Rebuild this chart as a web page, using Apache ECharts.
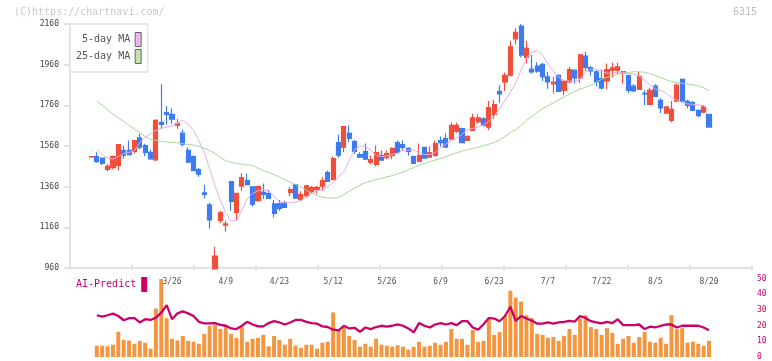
<!DOCTYPE html>
<html>
<head>
<meta charset="utf-8">
<script src="https://cdn.jsdelivr.net/npm/echarts@6/dist/echarts.min.js"></script>
<style>
  html, body { margin: 0; padding: 0; background: #fff; }
  #chart { width: 772px; height: 361px; }
</style>
</head>
<body>
<div id="chart"></div>
<script>
// ---- data ----
const dates = [
  '3/4','3/5','3/6','3/7','3/10','3/11','3/12','3/13','3/14','3/17','3/18','3/19','3/21','3/24','3/25','3/26','3/27','3/28','3/31',
  '4/1','4/2','4/3','4/4','4/7','4/8','4/9','4/10','4/11','4/14','4/15','4/16','4/17','4/18','4/21','4/22','4/23','4/24','4/25','4/28','4/30',
  '5/1','5/2','5/7','5/8','5/9','5/12','5/13','5/14','5/15','5/16','5/19','5/20','5/21','5/22','5/23','5/26','5/27','5/28','5/29','5/30',
  '6/2','6/3','6/4','6/5','6/6','6/9','6/10','6/11','6/12','6/13','6/16','6/17','6/18','6/19','6/20','6/23','6/24','6/25','6/26','6/27','6/30',
  '7/1','7/2','7/3','7/4','7/7','7/8','7/9','7/10','7/11','7/14','7/15','7/16','7/17','7/18','7/22','7/23','7/24','7/25','7/28','7/29','7/30','7/31',
  '8/1','8/4','8/5','8/6','8/7','8/8','8/12','8/13','8/14','8/15','8/18','8/19','8/20'
];
const tickLabels = ['3/26','4/9','4/23','5/12','5/26','6/9','6/23','7/7','7/22','8/5','8/20'];

const open = [1506,1508,1500,1445,1454,1465,1538,1538,1534,1600,1562,1529,1492,1676,1724,1716,1661,1623,1538,1508,
  1444,1330,1271,956,1194,1171,1385,1233,1362,1390,1359,1291,1332,1326,1275,1276,1281,1332,1370,1297,
  1316,1335,1347,1362,1429,1395,1577,1554,1622,1582,1518,1533,1480,1470,1513,1503,1513,1577,1567,1548,
  1508,1485,1553,1505,1513,1587,1597,1594,1633,1646,1587,1637,1678,1694,1653,1716,1829,1875,1908,2087,
  2150,1996,1938,1953,1962,1900,1865,1908,1834,1875,1933,1895,2002,1946,1925,1892,1880,1933,1933,1920,
  1908,1854,1838,1819,1765,1854,1785,1722,1686,1781,1888,1780,1773,1735,1727,1716];
const close = [1508,1483,1475,1460,1508,1567,1515,1518,1587,1554,1529,1497,1686,1666,1716,1692,1670,1569,1480,1439,
  1421,1322,1196,1019,1232,1177,1287,1327,1405,1370,1274,1360,1322,1302,1228,1253,1258,1345,1304,1321,
  1364,1355,1357,1390,1386,1498,1515,1656,1597,1533,1505,1495,1493,1528,1490,1523,1548,1528,1553,1533,
  1475,1513,1500,1528,1572,1577,1554,1661,1661,1577,1607,1699,1699,1661,1749,1764,1816,1908,2048,2119,
  2007,2040,1924,1928,1900,1875,1874,1829,1879,1936,1895,2008,1946,1929,1875,1845,1936,1944,1949,1926,
  1834,1831,1903,1816,1834,1804,1747,1752,1740,1859,1781,1760,1735,1709,1752,1653];
const high = [1508,1529,1502,1472,1513,1570,1563,1587,1590,1620,1571,1541,1691,1864,1755,1745,1694,1640,1554,1515,
  1452,1370,1281,1064,1242,1194,1387,1330,1426,1423,1362,1365,1376,1345,1294,1294,1291,1357,1370,1337,
  1370,1363,1363,1406,1439,1508,1617,1658,1661,1591,1529,1572,1513,1562,1538,1538,1554,1587,1587,1554,
  1513,1572,1553,1558,1587,1607,1622,1676,1676,1650,1612,1719,1716,1702,1781,1788,1859,1921,2078,2139,
  2160,2078,2007,1972,1969,1925,1900,1913,1879,1949,1933,2012,2023,1953,1933,1936,1966,1971,1970,1929,
  1908,1864,1924,1834,1847,1864,1796,1755,1781,1867,1892,1788,1781,1740,1760,1716];
const low = [1506,1478,1467,1436,1444,1439,1497,1515,1523,1543,1510,1492,1485,1645,1666,1670,1645,1559,1477,1436,
  1409,1302,1154,956,1181,1138,1242,1196,1340,1368,1263,1286,1299,1302,1208,1242,1258,1314,1301,1289,
  1307,1327,1327,1340,1386,1395,1502,1529,1579,1521,1500,1495,1470,1460,1490,1495,1495,1521,1538,1513,
  1475,1480,1500,1505,1513,1558,1554,1594,1625,1574,1587,1637,1670,1656,1637,1694,1773,1831,1903,2061,
  1996,1966,1917,1920,1880,1842,1818,1826,1809,1870,1867,1870,1929,1905,1854,1839,1839,1897,1913,1867,
  1821,1826,1838,1760,1760,1804,1722,1722,1675,1776,1781,1744,1732,1702,1722,1653];

// moving averages as drawn (first candle has none)
const ma5 = [null,1541,1518,1501,1496,1508,1523,1528,1538,1577,1602,1622,1637,1646,1654,1659,1671,1686,1666,1637,1587,
  1528,1449,1365,1291,1232,1192,1192,1242,1301,1326,1340,1345,1340,1311,1286,1281,1281,1284,1291,1309,
  1326,1340,1345,1360,1380,1409,1434,1488,1543,1560,1560,1538,1513,1508,1511,1518,1525,1538,1540,1540,
  1528,1518,1518,1528,1550,1570,1585,1600,1617,1640,1646,1654,1664,1681,1706,1745,1785,1824,1869,1933,
  1992,2022,2029,2007,1962,1928,1898,1883,1879,1876,1888,1923,1938,1938,1928,1918,1918,1923,1923,1918,
  1913,1903,1883,1859,1841,1834,1819,1800,1785,1772,1767,1765,1762,1758,1735];
const ma25 = [null,1782,1760,1738,1716,1698,1681,1661,1642,1624,1607,1594,1587,1582,1580,1577,1576,1572,1567,1565,1558,
  1548,1538,1523,1503,1488,1479,1474,1471,1467,1464,1451,1439,1429,1419,1407,1395,1381,1370,1359,1343,
  1328,1316,1308,1305,1304,1306,1321,1338,1353,1367,1380,1387,1395,1401,1408,1414,1422,1432,1443,1454,
  1465,1475,1483,1491,1498,1508,1518,1526,1535,1542,1548,1554,1561,1569,1577,1589,1607,1626,1641,1661,
  1686,1705,1725,1744,1758,1772,1787,1801,1816,1829,1840,1849,1859,1874,1888,1898,1906,1913,1918,1922,
  1925,1925,1923,1916,1906,1896,1886,1877,1871,1869,1865,1861,1855,1846,1832];

// lower panel (first candle has none)
const volume = [null,7.2,7.2,6.8,7.8,16.1,10.9,10.5,8.4,10.3,9.1,5.3,30.9,49.7,24.7,11.6,10.5,13.4,10.3,9.7,8.4,
  14.7,19.9,20.5,17.8,20.5,14.7,12.2,19.3,9.7,11.6,12.2,14.1,6.8,13.4,10.9,7.8,11.6,7.2,5.9,7.8,
  7.8,5.3,9.1,9.7,28.4,17.8,19.1,13.4,10.9,6.6,8.4,6.6,11.6,7.8,7.2,6.6,7.5,6.6,4.7,6.6,
  9.7,6.6,7.2,9.1,7.8,9.7,17.8,11.6,11.6,7.8,17.2,9.7,10.3,24.1,14.1,15.9,25.9,42.2,37.8,35.3,
  26.6,24.7,14.7,14.1,12.2,12.8,10.3,13.4,17.8,14.1,24.7,26.6,19.1,17.8,14.1,18.4,15.3,8.4,11.6,13.4,
  9.1,12.8,15.9,9.7,9.1,12.2,8.4,26.6,17.8,18.4,9.1,9.7,8.4,7.2,10.3];
const aiPredict = [null,26.6,25.7,26.6,27.6,26.1,23.4,24.7,24.7,22,24.1,23.6,25.1,28.2,33,24.1,27.8,29.1,27.8,26.1,22.4,
  21.4,21.4,21.6,20.5,19.9,18.2,17.8,19.9,22.4,20.7,19.5,19.5,21.6,22.8,22,20.7,22,23.6,23.6,22.4,
  21.6,21.2,19.5,19.1,17.4,17,19.9,18.2,18.6,16.1,18.8,17.8,19.1,19.9,19.3,19.9,20.8,19.9,18.2,15.7,
  21.6,19.9,18.8,20.7,21.6,20.7,21.6,20.3,22.8,22.8,18.8,17.4,20.9,24.9,24.5,22.8,26.1,32,23,26.1,
  24.5,23.2,21.2,21.2,22,21.2,22,22.4,23,22.6,26.1,24.9,22.8,22,21.4,22.4,21.6,24.1,20.3,20.3,
  20.3,20.7,17.8,19.3,18.8,19.9,20.7,20.7,18.8,19.9,19.9,19.9,19.9,18.8,17];

// ---- build library structures ----
const PAD_BEFORE = 4, PAD_AFTER = 8;
const cats = [];
for (let i = 0; i < PAD_BEFORE; i++) cats.push('_a' + i);
dates.forEach(d => cats.push(d));
for (let i = 0; i < PAD_AFTER; i++) cats.push('_b' + i);
const pad = arr => {
  const out = [];
  for (let i = 0; i < PAD_BEFORE; i++) out.push('-');
  arr.forEach(v => out.push(v == null ? '-' : v));
  for (let i = 0; i < PAD_AFTER; i++) out.push('-');
  return out;
};
const ohlc = pad(dates.map((d, i) => [open[i], close[i], low[i], high[i]]));

const FONT = 'DejaVu Sans Mono';
const RED = '#f04f3c', BLUE = '#3d7cf0';
const AXC = '#e2e2e2';
const CRIMSON = '#cc0066';

const chart = echarts.init(document.getElementById('chart'), null, { renderer: 'canvas' });
chart.setOption({
  animation: false,
  backgroundColor: '#fff',
  title: [
    { text: '(C)https://chartnavi.com/', left: 14, top: 7, padding: 0,
      textStyle: { fontFamily: FONT, fontSize: 10, fontWeight: 'normal', color: '#c8c8c8' } },
    { text: '6315', right: 15, top: 7, padding: 0,
      textStyle: { fontFamily: FONT, fontSize: 10, fontWeight: 'normal', color: '#bdbdbd' } }
  ],
  legend: [
    { left: 70, top: 24, orient: 'vertical', align: 'right',
      data: [{ name: '5-day MA', icon: 'rect' }, { name: '25-day MA', icon: 'rect' }],
      itemWidth: 6, itemHeight: 14, itemGap: 2,
      backgroundColor: '#fff', borderColor: AXC, borderWidth: 1.5,
      padding: [8, 6, 8, 6],
      textStyle: { fontFamily: FONT, fontSize: 10, color: '#555' },
      itemStyle: { borderColor: '#666', borderWidth: 1 },
      selectedMode: false, z: 10 },
    { left: 70, top: 277, orient: 'vertical', align: 'right',
      data: [{ name: 'AI-Predict', icon: 'rect' }],
      itemWidth: 6, itemHeight: 15,
      padding: [0, 0, 0, 6],
      textStyle: { fontFamily: FONT, fontSize: 10, color: CRIMSON },
      selectedMode: false }
  ],
  grid: [
    { left: 70, right: 20, top: 24, height: 244 },
    { left: 70, right: 20, top: 278.5, height: 80 }
  ],
  xAxis: [
    { type: 'category', gridIndex: 0, data: cats, boundaryGap: false,
      axisLine: { lineStyle: { color: AXC, width: 2 } },
      axisTick: { show: false },
      axisLabel: { interval: (idx, val) => tickLabels.includes(val), margin: 10,
        fontFamily: FONT, fontSize: 8, color: '#555' },
      splitLine: { show: false } },
    { type: 'value', gridIndex: 0, min: 0, max: 11, interval: 1, position: 'bottom', offset: 2,
      axisLine: { show: false },
      axisTick: { show: true, inside: true, length: 5, lineStyle: { color: AXC, width: 2 } },
      axisLabel: { show: false }, splitLine: { show: false } },
    { type: 'category', gridIndex: 1, data: cats, boundaryGap: false, show: false }
  ],
  yAxis: [
    { type: 'value', gridIndex: 0, min: 960, max: 2160, interval: 200, position: 'left',
      axisLine: { show: true, lineStyle: { color: AXC, width: 2 } },
      axisTick: { show: true, length: 6, lineStyle: { color: AXC, width: 2 } },
      axisLabel: { margin: 11, fontFamily: FONT, fontSize: 8, color: '#444', formatter: v => String(v) },
      splitLine: { show: false } },
    { type: 'value', gridIndex: 1, min: 0, max: 50, interval: 10, position: 'right',
      axisLine: { show: false }, axisTick: { show: false },
      axisLabel: { margin: 5, fontFamily: FONT, fontSize: 8, color: CRIMSON, formatter: v => String(v) },
      splitLine: { show: false } }
  ],
  series: [
    { type: 'candlestick', name: 'price', xAxisIndex: 0, yAxisIndex: 0, data: ohlc,
      barWidth: 4.6, clip: true,
      itemStyle: { color: RED, color0: BLUE, borderColor: RED, borderColor0: BLUE, borderWidth: 1.2 },
      emphasis: { disabled: true } },
    { type: 'line', name: '5-day MA', xAxisIndex: 0, yAxisIndex: 0, data: pad(ma5),
      symbol: 'none', color: '#ebb8ee', lineStyle: { width: 1, color: '#e6abe9' } },
    { type: 'line', name: '25-day MA', xAxisIndex: 0, yAxisIndex: 0, data: pad(ma25),
      symbol: 'none', color: '#c2e2b4', lineStyle: { width: 1, color: '#a9d799' } },
    { type: 'bar', name: 'volume', xAxisIndex: 2, yAxisIndex: 1, data: pad(volume),
      barWidth: 4, itemStyle: { color: '#f2963f' }, emphasis: { disabled: true } },
    { type: 'line', name: 'AI-Predict', xAxisIndex: 2, yAxisIndex: 1, data: pad(aiPredict),
      symbol: 'none', color: CRIMSON, lineStyle: { width: 2.3, color: CRIMSON } }
  ]
});
</script>
</body>
</html>
